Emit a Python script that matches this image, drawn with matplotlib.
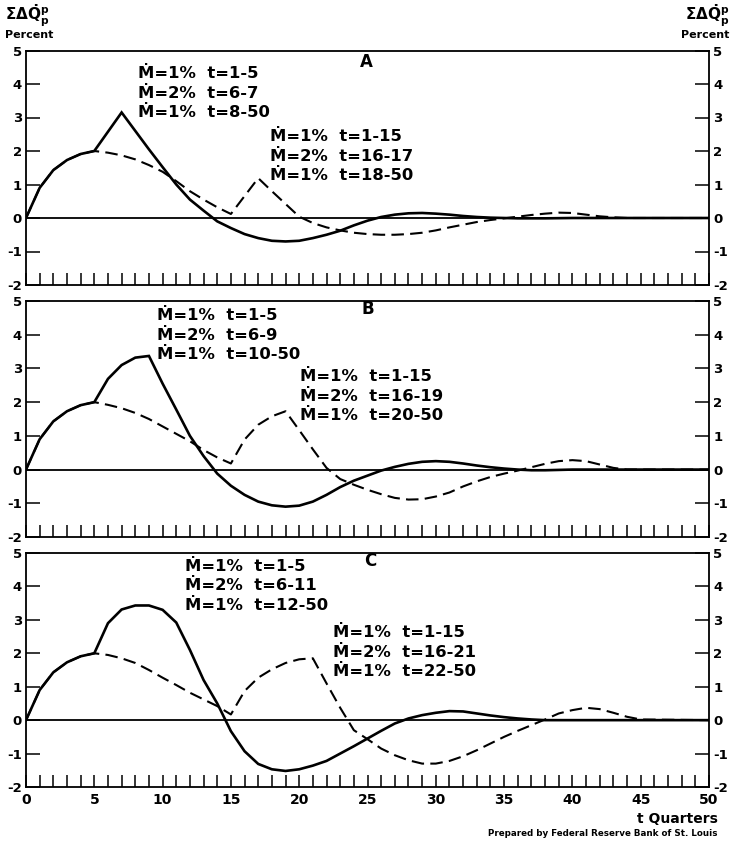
import matplotlib
matplotlib.use("Agg")
import matplotlib.pyplot as plt

plt.rcParams['font.family'] = ['DejaVu Sans']
plt.rcParams['font.weight'] = 'bold'
plt.rcParams['mathtext.fontset'] = 'dejavusans'

# ---------------- data ----------------
t_axis = list(range(0, 51))
x_tick_labels = ['0', '5', '10', '15', '20', '25', '30', '35', '40', '45', '50']
y_ticks = [-2, -1, 0, 1, 2, 3, 4, 5]
y_tick_labels = ['-2', '-1', '0', '1', '2', '3', '4', '5']
panel_letters = ['A', 'B', 'C']

# Panel A
a_solid_t = [0, 1, 2, 3, 4, 5, 7, 8, 9, 10, 11, 12, 13, 14, 15, 16, 17, 18, 19, 20,
             21, 22, 23, 24, 25, 26, 27, 28, 29, 30, 31, 32, 33, 34, 35, 36, 38, 40, 45, 50]
a_solid_v = [0.0, 0.9, 1.43, 1.73, 1.91, 2.0, 3.15, 2.6, 2.05, 1.52, 1.0, 0.55, 0.22, -0.1, -0.3,
             -0.48, -0.6, -0.68, -0.7, -0.68, -0.6, -0.5, -0.38, -0.22, -0.08, 0.03, 0.1, 0.14,
             0.15, 0.13, 0.1, 0.06, 0.03, 0.01, 0.0, -0.01, -0.01, 0.0, 0.0, 0.0]
a_dash_t = [0, 1, 2, 3, 4, 5, 6, 7, 8, 9, 10, 11, 12, 13, 14, 15, 17, 18, 19, 20, 21, 22,
            23, 24, 25, 26, 27, 28, 29, 30, 31, 32, 33, 34, 35, 36, 37, 38, 39, 40, 41, 42,
            43, 44, 50]
a_dash_v = [0.0, 0.9, 1.43, 1.73, 1.91, 2.0, 1.95, 1.87, 1.75, 1.58, 1.38, 1.1, 0.8, 0.55,
            0.32, 0.12, 1.19, 0.8, 0.42, 0.04, -0.15, -0.28, -0.37, -0.44, -0.48, -0.5, -0.5,
            -0.48, -0.44, -0.37, -0.28, -0.2, -0.12, -0.06, -0.01, 0.04, 0.09, 0.13, 0.16,
            0.15, 0.1, 0.05, 0.02, 0.0, 0.0]

# Panel B
b_solid_t = [0, 1, 2, 3, 4, 5, 6, 7, 8, 9, 10, 11, 12, 13, 14, 15, 16, 17, 18, 19, 20,
             21, 22, 23, 24, 25, 26, 27, 28, 29, 30, 31, 32, 33, 34, 35, 36, 37, 38, 40, 45, 50]
b_solid_v = [0.0, 0.9, 1.43, 1.73, 1.91, 2.0, 2.69, 3.1, 3.32, 3.37, 2.55, 1.78, 1.0, 0.4,
             -0.12, -0.48, -0.75, -0.95, -1.06, -1.1, -1.07, -0.95, -0.75, -0.52, -0.33,
             -0.18, -0.03, 0.08, 0.17, 0.23, 0.25, 0.23, 0.18, 0.12, 0.07, 0.03, 0.0, -0.02,
             -0.02, 0.0, 0.0, 0.0]
b_dash_t = [0, 1, 2, 3, 4, 5, 6, 7, 8, 9, 10, 11, 12, 13, 14, 15, 16, 17, 18, 19, 20, 21,
            22, 23, 24, 25, 26, 27, 28, 29, 30, 31, 32, 33, 34, 35, 36, 37, 38, 39, 40, 41,
            42, 43, 44, 50]
b_dash_v = [0.0, 0.9, 1.43, 1.73, 1.91, 2.0, 1.92, 1.82, 1.68, 1.5, 1.28, 1.06, 0.84, 0.58,
            0.36, 0.18, 0.89, 1.33, 1.58, 1.73, 1.17, 0.6, 0.05, -0.28, -0.45, -0.6, -0.73,
            -0.84, -0.89, -0.88, -0.8, -0.68, -0.5, -0.35, -0.22, -0.12, -0.03, 0.07, 0.17,
            0.25, 0.28, 0.25, 0.15, 0.05, 0.0, 0.0]

# Panel C
c_solid_t = [0, 1, 2, 3, 4, 5, 6, 7, 8, 9, 10, 11, 12, 13, 14, 15, 16, 17, 18, 19, 20,
             21, 22, 23, 24, 25, 26, 27, 28, 29, 30, 31, 32, 33, 34, 35, 36, 37, 38, 40, 45, 50]
c_solid_v = [0.0, 0.9, 1.43, 1.73, 1.91, 2.0, 2.9, 3.31, 3.43, 3.43, 3.3, 2.92, 2.1, 1.2,
             0.5, -0.33, -0.93, -1.31, -1.47, -1.52, -1.47, -1.36, -1.22, -1.0, -0.78, -0.55,
             -0.32, -0.1, 0.05, 0.15, 0.22, 0.27, 0.26, 0.2, 0.14, 0.09, 0.05, 0.02, 0.0,
             0.0, 0.0, 0.0]
c_dash_t = [0, 1, 2, 3, 4, 5, 6, 7, 8, 9, 10, 11, 12, 13, 14, 15, 16, 17, 18, 19, 20, 21,
            22, 23, 24, 25, 26, 27, 28, 29, 30, 31, 32, 33, 34, 35, 36, 37, 38, 39, 40, 41,
            42, 43, 44, 45, 50]
c_dash_v = [0.0, 0.9, 1.43, 1.73, 1.91, 2.0, 1.95, 1.85, 1.71, 1.5, 1.27, 1.05, 0.82, 0.62,
            0.42, 0.17, 0.87, 1.27, 1.52, 1.71, 1.82, 1.85, 1.1, 0.37, -0.3, -0.57, -0.85,
            -1.05, -1.2, -1.3, -1.3, -1.22, -1.08, -0.9, -0.7, -0.5, -0.32, -0.15, 0.02, 0.2,
            0.3, 0.37, 0.33, 0.22, 0.1, 0.02, 0.0]

# Annotations
a_note1 = ['\u1E40=1%  t=1-5', '\u1E40=2%  t=6-7', '\u1E40=1%  t=8-50']
a_note2 = ['\u1E40=1%  t=1-15', '\u1E40=2%  t=16-17', '\u1E40=1%  t=18-50']
b_note1 = ['\u1E40=1%  t=1-5', '\u1E40=2%  t=6-9', '\u1E40=1%  t=10-50']
b_note2 = ['\u1E40=1%  t=1-15', '\u1E40=2%  t=16-19', '\u1E40=1%  t=20-50']
c_note1 = ['\u1E40=1%  t=1-5', '\u1E40=2%  t=6-11', '\u1E40=1%  t=12-50']
c_note2 = ['\u1E40=1%  t=1-15', '\u1E40=2%  t=16-21', '\u1E40=1%  t=22-50']

panels = [
    dict(solid=(a_solid_t, a_solid_v), dash=(a_dash_t, a_dash_v),
         n1=a_note1, n1pos=(8.2, 4.30), n2=a_note2, n2pos=(17.85, 2.42), letter=(24.9, 4.66)),
    dict(solid=(b_solid_t, b_solid_v), dash=(b_dash_t, b_dash_v),
         n1=b_note1, n1pos=(9.6, 4.57), n2=b_note2, n2pos=(20.05, 2.75), letter=(25.0, 4.75)),
    dict(solid=(c_solid_t, c_solid_v), dash=(c_dash_t, c_dash_v),
         n1=c_note1, n1pos=(11.65, 4.6), n2=c_note2, n2pos=(22.45, 2.61), letter=(25.2, 4.75)),
]

W, H = 732, 841
fig = plt.figure(figsize=(W / 100, H / 100), dpi=100)
fig.patch.set_facecolor('white')

left = 26 / W
width = (709 - 26) / W
tops = [50.5, 301, 553]
bottoms = [285, 537, 787]

line_dy = 0.58
for i, p in enumerate(panels):
    ax = fig.add_axes([left, 1 - bottoms[i] / H, width, (bottoms[i] - tops[i]) / H])
    ax.set_xlim(0, 50)
    ax.set_ylim(-2, 5)
    for s in ax.spines.values():
        s.set_linewidth(1.3)
        s.set_color('black')
    ax.axhline(0, color='black', lw=1.3, zorder=2)
    ax.plot(p['solid'][0], p['solid'][1], color='black', lw=1.9, solid_joinstyle='miter', zorder=3)
    ax.plot(p['dash'][0], p['dash'][1], color='black', lw=1.5, dashes=(6, 3), zorder=3)

    ax.set_yticks(y_ticks)
    ax.set_yticklabels(y_tick_labels)
    ax.tick_params(axis='y', which='both', direction='in', length=10, width=1.1,
                   left=True, right=True, labelleft=True, labelright=True,
                   labelsize=9.5, pad=3)
    ax.set_xticks(t_axis)
    if i == 2:
        ax.set_xticklabels([str(t) if t % 5 == 0 else '' for t in t_axis])
    else:
        ax.set_xticklabels([])
    ax.tick_params(axis='x', which='both', direction='in', length=9, width=1.1,
                   bottom=True, top=False, labelsize=10, pad=4)
    for lab in ax.get_xticklabels() + ax.get_yticklabels():
        lab.set_fontweight('bold')

    x1, y1 = p['n1pos']
    for k, s in enumerate(p['n1']):
        ax.text(x1, y1 - k * line_dy, s, fontsize=11.8, fontweight='bold', ha='left', va='center')
    x2, y2 = p['n2pos']
    for k, s in enumerate(p['n2']):
        ax.text(x2, y2 - k * line_dy, s, fontsize=11.8, fontweight='bold', ha='left', va='center')
    ax.text(p['letter'][0], p['letter'][1], panel_letters[i], fontsize=12, fontweight='bold',
            ha='center', va='center')

ylab = r'$\mathbf{\Sigma\Delta\dot{Q}_{p}^{p}}$'
fig.text(5 / W, 1 - 16 / H, ylab, fontsize=11, ha='left', va='center')
fig.text(5 / W, 1 - 35 / H, 'Percent', fontsize=8, fontweight='bold', ha='left', va='center')
fig.text(729 / W, 1 - 16 / H, ylab, fontsize=11, ha='right', va='center')
fig.text(729 / W, 1 - 35 / H, 'Percent', fontsize=8, fontweight='bold', ha='right', va='center')

fig.text(718 / W, 1 - 819 / H, 't Quarters', fontsize=10, fontweight='bold', ha='right', va='center')
fig.text(717 / W, 1 - 834 / H, 'Prepared by Federal Reserve Bank of St. Louis', fontsize=6.3,
         fontweight='bold', ha='right', va='center')

fig.savefig('out.png', dpi=100)
